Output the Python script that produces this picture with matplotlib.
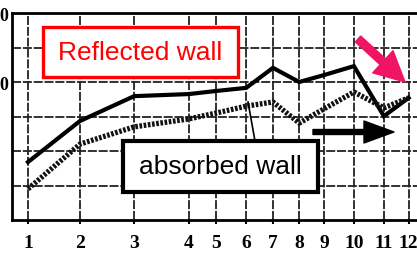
import matplotlib
matplotlib.use('Agg')
import matplotlib.pyplot as plt
from matplotlib.patches import Rectangle, FancyArrowPatch
from matplotlib.lines import Line2D
from matplotlib.transforms import IdentityTransform

# tick labels along the bottom and where they sit on the (uneven) scanned axis
x_labels = ['1', '2', '3', '4', '5', '6', '7', '8', '9', '10', '11', '12']
x_pos = [1.0, 1.97, 2.98, 4.0, 4.51, 5.07, 5.57, 6.06, 6.52, 7.08, 7.64, 8.1]

# the two curves
reflected = [1.68, 2.87, 3.59, 3.65, 3.74, 3.83, 4.41, 4.0, 4.2, 4.46, 3.01, 3.54]
absorbed = [0.90, 2.20, 2.70, 2.93, 3.10, 3.30, 3.42, 2.81, 3.22, 3.71, 3.25, 3.54]

# only the last digit of the left labels survives in the scan
y_ticks = [4, 6]
y_labels = ['0', '0']

fig = plt.figure(figsize=(4.17, 2.55), dpi=100)
ax = fig.add_axes([12/417, 34/255, 1 - 12/417, 207/255])

# grid like the graph paper of the scan
for xp in x_pos:
    ax.axvline(xp, color='#222222', lw=1.3, ls=(0, (5, 1)), zorder=1)
for yv in range(1, 6):
    ax.axhline(yv, color='#222222', lw=1.3, ls=(0, (5, 1)), zorder=1)

ax.plot(x_pos, reflected, color='black', lw=3.0, solid_joinstyle='miter', zorder=3)
ax.plot(x_pos, absorbed, color='#111111', lw=3.8, ls=(0, (0.5, 0.3)), zorder=3)

ax.set_xlim(0.7015, 8.257)
ax.set_ylim(0, 6)
ax.set_xticks(x_pos)
ax.set_xticklabels(x_labels, family='Liberation Serif', fontweight='bold', fontsize=14)
ax.set_yticks(y_ticks)
ax.set_yticklabels(y_labels, family='Liberation Serif', fontweight='bold', fontsize=13)
ax.tick_params(axis='x', length=3, width=1.5, pad=7, direction='out')
ax.tick_params(axis='y', length=0, pad=2.5)
for s in ['left', 'bottom', 'top']:
    ax.spines[s].set_linewidth(2)
ax.spines['right'].set_visible(False)

# label boxes (figure pixels)
ident = IdentityTransform()
fig.add_artist(Rectangle((43, 255 - 78), 195, 50, transform=ident, facecolor='white',
                         edgecolor='#FF0000', lw=2.4, zorder=5))
fig.text(140.5/417, 1 - 53/255, 'Reflected wall', color='#FF0000', fontsize=19,
         family='Liberation Sans', ha='center', va='center', zorder=6)
fig.add_artist(Rectangle((123, 255 - 193), 195, 51, transform=ident, facecolor='white',
                         edgecolor='black', lw=3, zorder=5))
fig.text(220.5/417, 1 - 167.5/255, 'absorbed wall', color='black', fontsize=19,
         family='Liberation Sans', ha='center', va='center', zorder=6)

# leader line from the dotted curve down to the box
fig.add_artist(Line2D([248, 255], [255 - 103, 255 - 142], transform=ident, color='black', lw=1.2, zorder=4))

# arrows
px = 0.72  # 1 pixel in points at 100 dpi
fig.add_artist(FancyArrowPatch((358, 255 - 40), (405, 255 - 83), transform=ident,
                               arrowstyle='simple,head_length=30,head_width=30,tail_width=8',
                               mutation_scale=px, color='#F01464', shrinkA=0, shrinkB=0, zorder=7))
fig.add_artist(FancyArrowPatch((313, 255 - 133), (394, 255 - 133), transform=ident,
                               arrowstyle='simple,head_length=30,head_width=22,tail_width=5',
                               mutation_scale=px, color='black', shrinkA=0, shrinkB=0, zorder=7))

fig.savefig('out.png', dpi=100)
